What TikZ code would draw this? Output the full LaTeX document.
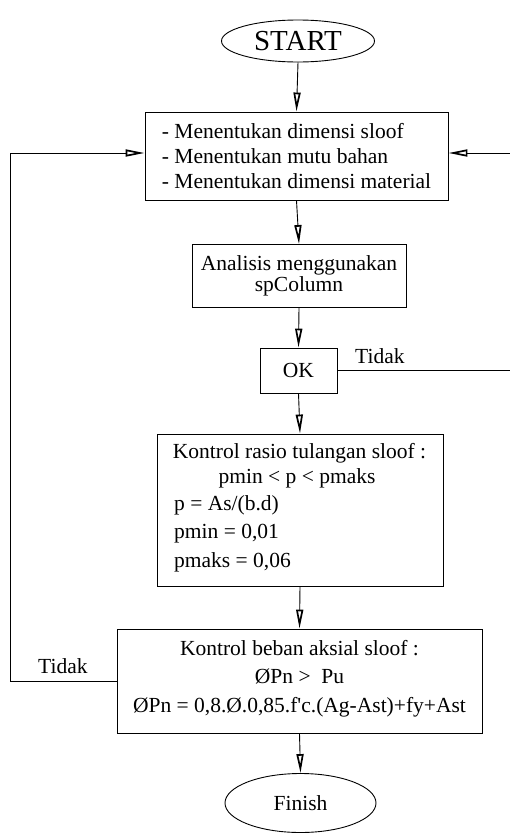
\documentclass[tikz,border=0pt]{standalone}
\usepackage{fontspec}
\setmainfont{Liberation Serif}
\usetikzlibrary{shapes.geometric,arrows.meta}
\begin{document}
\begin{tikzpicture}[x=1pt,y=-1pt,
  every node/.style={font=\fontsize{21.5}{25}\selectfont, inner sep=0pt},
  box/.style={draw, line width=0.9pt},
  term/.style={draw, ellipse, line width=0.9pt},
  lbl/.style={anchor=base west},
  txt/.style={anchor=base},
  ln/.style={line width=0.9pt},
  arr/.style={line width=0.9pt, -{Triangle[open,length=19pt,width=7pt,line width=1.7pt]}}]
\useasboundingbox (0,0) rectangle (510,833);
% nodes
\node[term, minimum width=153pt, minimum height=42pt, font=\fontsize{29}{30}\selectfont] (start) at (298,41) {START};
\node[box, minimum width=303pt, minimum height=88pt, align=left] (b1) at (296.5,156)
  {- Menentukan dimensi sloof\\- Menentukan mutu bahan\\- Menentukan dimensi material};
\node[box, minimum width=214pt, minimum height=63pt, align=center, font=\fontsize{21.5}{21.5}\selectfont] (b2) at (299,276)
  {Analisis menggunakan\\spColumn};
\node[box, minimum width=77pt, minimum height=45pt] (ok) at (298.5,370.5) {OK};
\node[box, minimum width=286pt, minimum height=152pt] (b3) at (300,510) {};
\node[txt] (t31) at (299.5,458) {Kontrol rasio tulangan sloof :};
\node[txt] (t32) at (297,483) {pmin < p < pmaks};
\node[lbl] (t33) at (174,510) {p = As/(b.d)};
\node[lbl] (t34) at (174,538) {pmin = 0,01};
\node[lbl] (t35) at (174,567) {pmaks = 0,06};
\node[box, minimum width=365pt, minimum height=104pt] (b4) at (299.5,681) {};
\node[txt] (t41) at (299.5,655) {Kontrol beban aksial sloof :};
\node[txt] (t42) at (299.5,683) {ØPn >\ \ Pu};
\node[txt] (t43) at (299.5,712) {ØPn = 0,8.Ø.0,85.f\textquotesingle c.(Ag-Ast)+fy+Ast};
\node[term, minimum width=151pt, minimum height=59pt] (fin) at (300.5,803) {Finish};
\node[lbl] (tid1) at (355,363) {Tidak};
\node[lbl] (tid2) at (38,673) {Tidak};
% connectors
\draw[arr] (start.south) -- (b1.north);
\draw[arr] (b1.south) -- (b2.north);
\draw[arr] (b2.south) -- (ok.north);
\draw[arr] (ok.south) -- (b3.north);
\draw[arr] (b3.south) -- (b4.north);
\draw[arr] (b4.south) -- (fin.north);
\coordinate (l1) at (10,681);
\coordinate (l2) at (10,153);
\draw[arr] (b4.west) -- (l1) -- (l2) -- (l2 -| b1.west);
\coordinate (r1) at (510,153);
\draw[arr] (r1) -- (r1 -| b1.east);
\coordinate (r2) at (510,370.5);
\draw[ln] (ok.east) -- (r2);
\end{tikzpicture}
\end{document}
